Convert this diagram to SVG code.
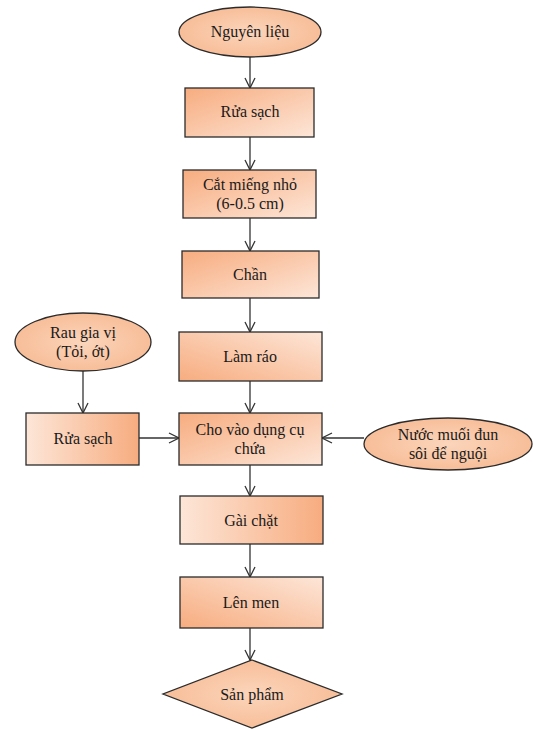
<svg xmlns="http://www.w3.org/2000/svg" width="533" height="729" viewBox="0 0 533 729">
<style>
.box{stroke:#2b2b2b;stroke-width:1.3}
.t{font-size:16px;fill:#1a1a1a;text-anchor:middle}
.c{stroke:#333;stroke-width:1.3;fill:none;marker-end:url(#ah)}
</style>
<defs>
<marker id="ah" viewBox="0 0 12 12" refX="11" refY="6" markerWidth="12" markerHeight="12" markerUnits="userSpaceOnUse" orient="auto">
<polyline points="1,1 11,6 1,11" fill="none" stroke="#333" stroke-width="1.3"/>
</marker>
<linearGradient id="gTL" x1="0" y1="0" x2="1" y2="1"><stop offset="0" stop-color="#F7AC7F"/><stop offset="1" stop-color="#FDE6D8"/></linearGradient>
<linearGradient id="gLR" x1="0" y1="0" x2="1" y2="0"><stop offset="0" stop-color="#FDE6D8"/><stop offset="1" stop-color="#F7AC7F"/></linearGradient>
<linearGradient id="gBL" x1="1" y1="0" x2="0" y2="1"><stop offset="0" stop-color="#FDE6D8"/><stop offset="1" stop-color="#F7AC7F"/></linearGradient>
<radialGradient id="gE" cx="0.5" cy="0.5" r="0.6"><stop offset="0" stop-color="#FBD5BB"/><stop offset="1" stop-color="#F7B992"/></radialGradient>
</defs>
<g id="connectors">
<line class="c" x1="250" y1="57" x2="250" y2="88"/>
<line class="c" x1="250" y1="137" x2="250" y2="170"/>
<line class="c" x1="250" y1="218" x2="250" y2="251"/>
<line class="c" x1="250" y1="298" x2="250" y2="332"/>
<line class="c" x1="250" y1="381" x2="250" y2="413"/>
<line class="c" x1="250" y1="465" x2="250" y2="496"/>
<line class="c" x1="250" y1="544" x2="250" y2="577"/>
<line class="c" x1="250" y1="628" x2="250" y2="660"/>
<line class="c" x1="83" y1="371" x2="83" y2="413"/>
<line class="c" x1="139" y1="438" x2="179" y2="438"/>
<line class="c" x1="364" y1="438" x2="322" y2="438"/>
</g>
<g font-family="Liberation Serif, Times New Roman, serif">
<g id="nguyen-lieu">
<ellipse class="box" cx="250" cy="32" rx="71" ry="25" fill="url(#gE)"/>
<text class="t" x="250" y="37">Nguyên liệu</text>
</g>
<g id="rua-sach">
<rect class="box" x="185" y="88" width="129" height="49" fill="url(#gTL)"/>
<text class="t" x="250" y="117">Rửa sạch</text>
</g>
<g id="cat-mieng">
<rect class="box" x="183" y="170" width="133" height="48" fill="url(#gTL)"/>
<text class="t" x="250" y="190">Cắt miếng nhỏ</text>
<text class="t" x="250" y="209">(6-0.5 cm)</text>
</g>
<g id="chan">
<rect class="box" x="182" y="251" width="137" height="47" fill="url(#gTL)"/>
<text class="t" x="250" y="280">Chần</text>
</g>
<g id="lam-rao">
<rect class="box" x="179" y="332" width="143" height="49" fill="url(#gBL)"/>
<text class="t" x="250" y="362">Làm ráo</text>
</g>
<g id="cho-vao">
<rect class="box" x="179" y="413" width="143" height="52" fill="url(#gTL)"/>
<text class="t" x="250" y="435">Cho vào dụng cụ</text>
<text class="t" x="250" y="454">chứa</text>
</g>
<g id="rau-gia-vi">
<ellipse class="box" cx="83" cy="342" rx="68" ry="29" fill="url(#gE)"/>
<text class="t" x="83" y="338">Rau gia vị</text>
<text class="t" x="83" y="357">(Tỏi, ớt)</text>
</g>
<g id="rua-sach-2">
<rect class="box" x="26" y="413" width="113" height="52" fill="url(#gLR)"/>
<text class="t" x="83" y="444">Rửa sạch</text>
</g>
<g id="nuoc-muoi">
<ellipse class="box" cx="448" cy="444" rx="84" ry="26" fill="url(#gE)"/>
<text class="t" x="448" y="440">Nước muối đun</text>
<text class="t" x="448" y="459">sôi để nguội</text>
</g>
<g id="gai-chat">
<rect class="box" x="180" y="496" width="143" height="48" fill="url(#gLR)"/>
<text class="t" x="251" y="526">Gài chặt</text>
</g>
<g id="len-men">
<rect class="box" x="180" y="577" width="143" height="51" fill="url(#gBL)"/>
<text class="t" x="251" y="608">Lên men</text>
</g>
<g id="san-pham">
<polygon class="box" points="252,660 342,694 252,728 163,694" fill="url(#gE)"/>
<text class="t" x="252" y="700">Sản phẩm</text>
</g>
</g>
</svg>
